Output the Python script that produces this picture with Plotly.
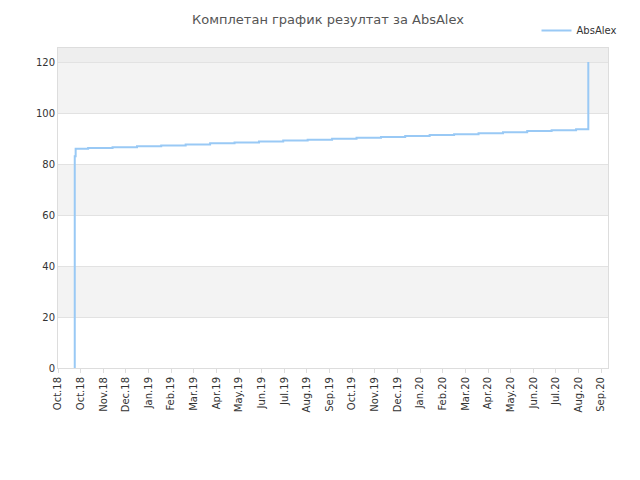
import plotly.graph_objects as go

# --- DATA ---
tick_labels = ['Oct.18', 'Oct.18', 'Nov.18', 'Dec.18', 'Jan.19', 'Feb.19', 'Mar.19', 'Apr.19',
               'May.19', 'Jun.19', 'Jul.19', 'Aug.19', 'Sep.19', 'Oct.19', 'Nov.19', 'Dec.19',
               'Jan.20', 'Feb.20', 'Mar.20', 'Apr.20', 'May.20', 'Jun.20', 'Jul.20', 'Aug.20',
               'Sep.20', 'Oct.20']
# x in month-tick units
result_x = [0.72, 0.74, 0.78, 1.33, 2.41, 3.49, 4.56, 5.64, 6.72, 7.80, 8.88, 9.95, 11.03,
            12.11, 13.19, 14.27, 15.34, 16.42, 17.50, 18.58, 19.66, 20.73, 21.81, 22.89,
            23.43, 23.43]
result_y = [0, 83, 86.0, 86.3, 86.6, 87.0, 87.3, 87.7, 88.1, 88.4, 88.8, 89.2, 89.5,
            89.9, 90.3, 90.6, 91.0, 91.4, 91.7, 92.1, 92.5, 92.9, 93.2, 93.6,
            94.0, 120]
y_top = 125.5

fig = go.Figure()
fig.add_trace(go.Scatter(x=result_x, y=result_y, name='AbsAlex', mode='lines',
                         line=dict(color='#99c9f5', width=2, shape='hv')))

# alternating background bands
bands = [(20, 40, '#f3f3f3'), (60, 80, '#f3f3f3'), (100, 120, '#f3f3f3'), (120, y_top, '#eeeeee')]
for y0, y1, c in bands:
    fig.add_shape(type='rect', xref='paper', yref='y', x0=0, x1=1, y0=y0, y1=y1,
                  fillcolor=c, line_width=0, layer='below')

fig.update_layout(
    width=640, height=480,
    margin=dict(l=50, r=40, t=40, b=120, autoexpand=False),
    paper_bgcolor='white', plot_bgcolor='white',
    title=dict(text='Комплетан график резултат за AbsAlex', x=0.5, y=0.985, yanchor='top',
               font=dict(family='DejaVu Sans', size=13, color='#555')),
    font=dict(family='DejaVu Sans', size=10, color='#333'),
    legend=dict(x=0.87, y=1.1, xanchor='left', yanchor='top', font=dict(size=10),
                bgcolor='rgba(0,0,0,0)', itemwidth=30),
    showlegend=True,
)
fig.update_xaxes(range=[0, 24.3], tickvals=list(range(len(tick_labels))), ticktext=tick_labels,
                 tickangle=-90, showgrid=False, zeroline=False, ticks='outside', ticklen=4,
                 tickcolor='#ddd', showline=True, linecolor='#ddd', mirror=True)
fig.update_yaxes(range=[0, y_top], tickvals=[0, 20, 40, 60, 80, 100, 120],
                 showgrid=True, gridcolor='#e2e2e2', zeroline=False, showline=True,
                 linecolor='#ddd', mirror=True)

fig.write_html('out.html')
